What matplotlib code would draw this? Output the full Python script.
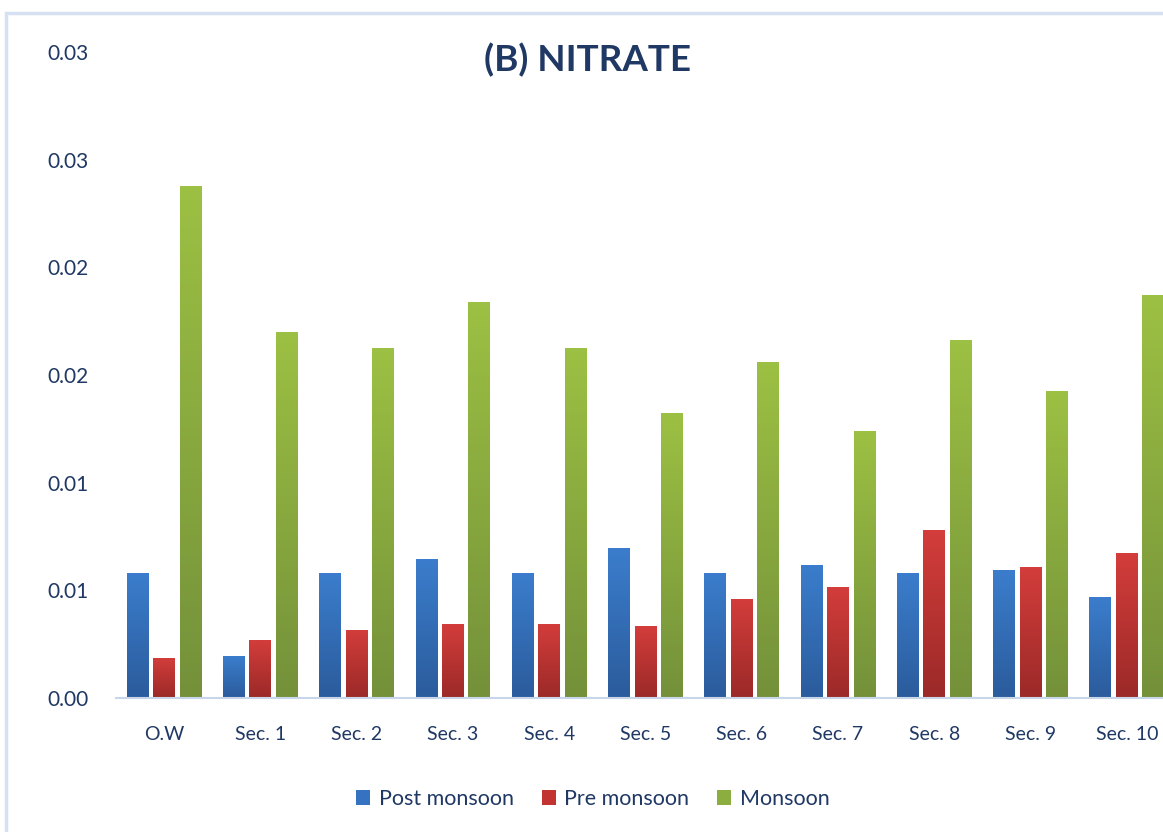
import numpy as np
import matplotlib.pyplot as plt
from matplotlib.patches import Patch, Rectangle
from matplotlib.colors import LinearSegmentedColormap

categories = ['O.W', 'Sec. 1', 'Sec. 2', 'Sec. 3', 'Sec. 4', 'Sec. 5',
              'Sec. 6', 'Sec. 7', 'Sec. 8', 'Sec. 9', 'Sec. 10']
post_monsoon = [0.0058, 0.00195, 0.0058, 0.00645, 0.0058, 0.00696,
                0.0058, 0.00617, 0.0058, 0.00594, 0.00469]
pre_monsoon = [0.00186, 0.0027, 0.00316, 0.00344, 0.00344, 0.00334,
               0.0046, 0.00515, 0.0078, 0.00608, 0.00673]
monsoon = [0.02377, 0.0170, 0.01625, 0.01838, 0.01625, 0.01323,
           0.0156, 0.0124, 0.01662, 0.01425, 0.01871]
yticks = [0.0, 0.005, 0.01, 0.015, 0.02, 0.025, 0.03]
ytick_labels = ['0.00', '0.01', '0.01', '0.02', '0.02', '0.03', '0.03']

series = [
    ('Post monsoon', post_monsoon, '#3b7dcc', '#2b5c9c', '#3572c0'),
    ('Pre monsoon', pre_monsoon, '#d33d3b', '#9b2a28', '#c23432'),
    ('Monsoon', monsoon, '#9cc043', '#74913a', '#8cad40'),
]
navy = '#1f3864'
font = 'Lato'

fig = plt.figure(figsize=(11.63, 8.32), dpi=100)
# outer chart frame (cut off on the right and bottom like the source)
fig.patches.append(Rectangle((6 / 1163, -0.1), 1.2, 1.1 - 13 / 832,
                             transform=fig.transFigure, fill=False,
                             edgecolor='#d5e1f2', linewidth=2.5))

ax = fig.add_axes([116 / 1163, 134 / 832, 1059 / 1163, 646 / 832])
x = np.arange(len(categories))
width = 0.228
offsets = [-0.275, 0.0, 0.275]

for (name, vals, top, bottom, mid), off in zip(series, offsets):
    cmap = LinearSegmentedColormap.from_list(name, [bottom, top])
    bars = ax.bar(x + off, vals, width, color=mid, edgecolor='none')
    for b in bars:
        bx, by = b.get_x(), b.get_y()
        h = b.get_height()
        grad = np.linspace(0, 1, 100).reshape(-1, 1)
        im = ax.imshow(grad, cmap=cmap, origin='lower', aspect='auto',
                       extent=[bx, bx + b.get_width(), by, by + h], zorder=2)
        im.set_clip_path(b)

ax.set_xlim(-0.5, len(categories) - 0.5)
ax.set_ylim(0, 0.03)
ax.set_yticks(yticks)
ax.set_yticklabels(ytick_labels)
ax.set_xticks(x)
ax.set_xticklabels(categories)
ax.tick_params(axis='both', length=0, labelcolor=navy)
ax.tick_params(axis='y', pad=19.5, labelsize=15)
ax.tick_params(axis='x', pad=20, labelsize=14)
for lab in ax.get_xticklabels() + ax.get_yticklabels():
    lab.set_family(font)
for s in ['top', 'right', 'left']:
    ax.spines[s].set_visible(False)
ax.spines['bottom'].set_color('#c9d6ea')
ax.spines['bottom'].set_linewidth(1.5)

fig.text(588 / 1163, 1 - 60 / 832, '(B) NITRATE', ha='center', va='center',
         fontsize=26.5, fontweight='bold', color=navy, family=font)

handles = [Patch(facecolor=s[4], edgecolor='none', label=s[0]) for s in series]
leg = fig.legend(handles=handles, loc='center', ncol=3,
                 bbox_to_anchor=(593 / 1163, 1 - 799 / 832), frameon=False,
                 prop={'family': font, 'size': 15.5}, handlelength=0.65,
                 handleheight=0.65, handletextpad=0.4, columnspacing=1.3)
for t in leg.get_texts():
    t.set_color(navy)

fig.savefig('out.png', dpi=100)
